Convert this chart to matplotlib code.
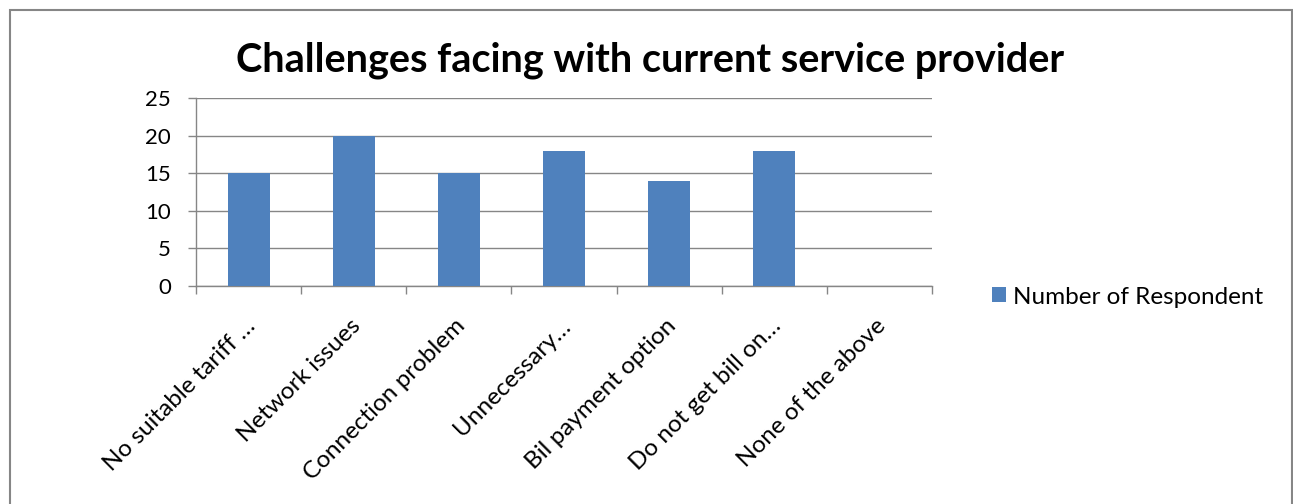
import matplotlib.pyplot as plt
import matplotlib.patches as patches
import numpy as np

categories = ["No suitable tariff \u2026", "Network issues", "Connection problem",
              "Unnecessary\u2026", "Bil payment option", "Do not get bill on\u2026",
              "None of the above"]
respondents = [15, 20, 15, 18, 14, 18, 0]
y_ticks = [0, 5, 10, 15, 20, 25]

plt.rcParams['font.family'] = ['Lato', 'DejaVu Sans']
grey = '#868686'
bar_blue = '#4F81BD'

fig = plt.figure(figsize=(12.93, 5.04), dpi=100)
ax = fig.add_axes([0.1516, 0.4325, 0.5692, 0.3731])

x = np.arange(len(categories))
ax.bar(x, respondents, width=0.4, color=bar_blue, zorder=3, label='Number of Respondent')

ax.set_xlim(-0.5, len(categories) - 0.5)
ax.set_ylim(0, 25)
ax.set_yticks(y_ticks)
ax.set_yticklabels([str(v) for v in y_ticks], fontsize=16)
ax.yaxis.grid(True, color=grey, linewidth=1, zorder=0)

# ticks sit on category boundaries, labels under the bar centres
ax.set_xticks(np.arange(len(categories) + 1) - 0.5)
ax.set_xticklabels([])
ax.tick_params(axis='x', direction='out', length=6, color=grey, width=1)
ax.tick_params(axis='y', direction='out', length=6, color=grey, width=1, pad=12)
for xi, lab in zip(x, categories):
    ax.annotate(lab, xy=(xi, 0), xycoords=('data', 'axes fraction'),
                xytext=(-3, -21), textcoords='offset points',
                rotation=45, ha='right', va='top', rotation_mode='anchor',
                fontsize=17.5)

for side in ['top', 'right']:
    ax.spines[side].set_visible(False)
for side in ['left', 'bottom']:
    ax.spines[side].set_color(grey)
    ax.spines[side].set_linewidth(1)

fig.text(0.5027, 0.881, 'Challenges facing with current service provider',
         ha='center', va='center', fontsize=28.5, fontweight='bold')

fig.legend(loc='center left', bbox_to_anchor=(992 / 1293, 1 - 297 / 504), frameon=False,
           fontsize=17.5, handlelength=0.58, handleheight=0.58, handletextpad=0.3,
           borderaxespad=0, borderpad=0)

# chart border
fig.patches.append(patches.Rectangle((9.5 / 1293, -0.1), (1292 - 9.5) / 1293, 1.1 - 10.5 / 504,
                                     transform=fig.transFigure, fill=False,
                                     edgecolor=grey, linewidth=1.5))

fig.savefig('out.png', dpi=100)
